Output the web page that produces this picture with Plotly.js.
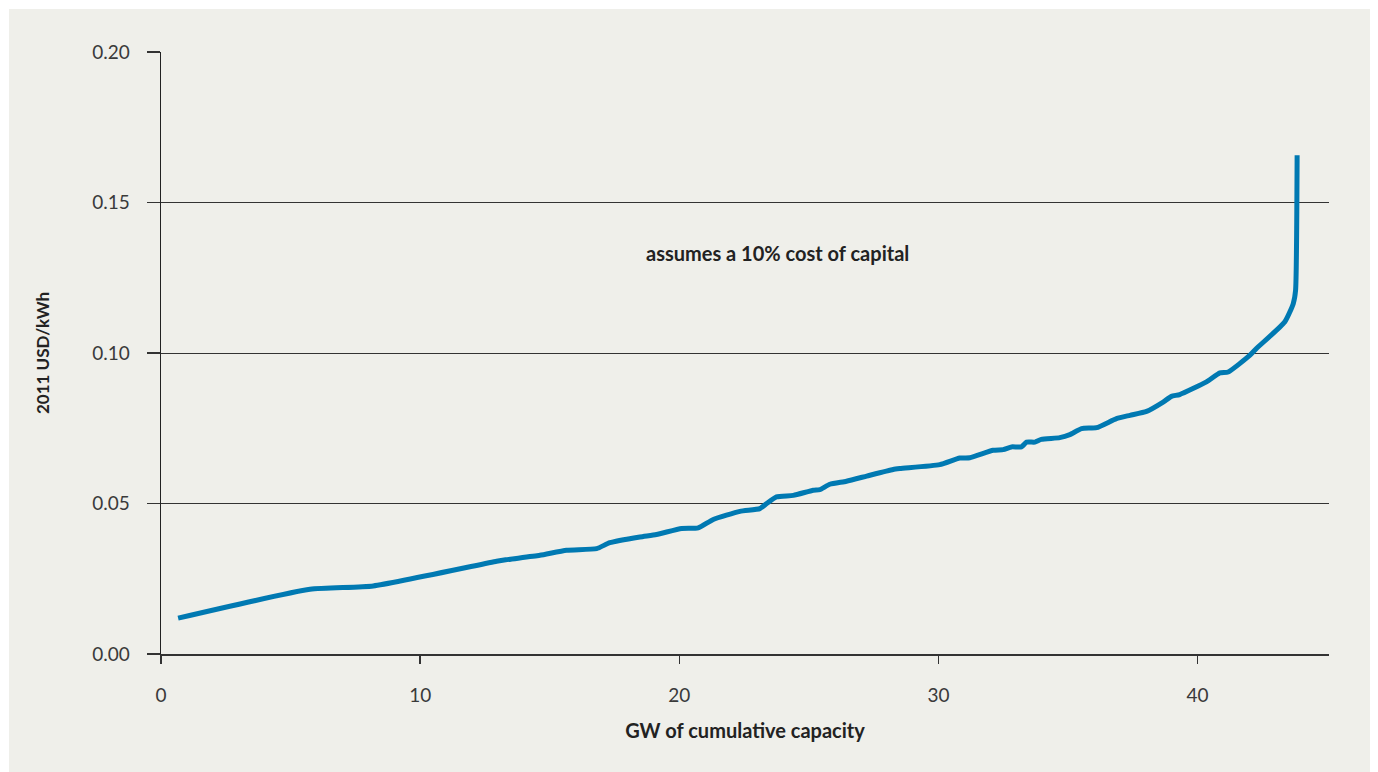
<!DOCTYPE html>
<html>
<head>
<meta charset="utf-8">
<script src="https://cdn.plot.ly/plotly-3.0.1.min.js"></script>
<style>
  html, body { margin: 0; padding: 0; background: #ffffff; }
  #chart { position: absolute; left: 9px; top: 9px; width: 1361px; height: 763px; }
</style>
</head>
<body>
<div id="chart"></div>
<script>
// GW of cumulative capacity
const capacityGW = [0.66, 5.75, 8.19, 12.95, 13.3, 14.62, 15.65, 16.81, 17.32, 18.48, 19.12, 20.09, 20.73, 21.31, 22.34, 23.11, 23.37, 23.75, 24.40, 25.17, 25.42, 25.81, 26.45, 27.23, 28.25, 28.51, 30.05, 30.82, 31.21, 32.11, 32.50, 32.82, 33.20, 33.40, 33.72, 33.97, 34.68, 35.07, 35.52, 36.10, 36.87, 37.39, 38.03, 38.67, 38.99, 39.31, 40.34, 40.86, 41.18, 42.01, 42.27, 43.36, 43.69, 43.78, 43.84];
// 2011 USD/kWh
const costUSDkWh = [0.0119, 0.0215, 0.0226, 0.0308, 0.0313, 0.0328, 0.0345, 0.0350, 0.0370, 0.0389, 0.0397, 0.0417, 0.0419, 0.0447, 0.0474, 0.0483, 0.0500, 0.0522, 0.0527, 0.0544, 0.0546, 0.0564, 0.0574, 0.0591, 0.0613, 0.0616, 0.0629, 0.0651, 0.0652, 0.0677, 0.0679, 0.0688, 0.0688, 0.0704, 0.0704, 0.0713, 0.0719, 0.0729, 0.0749, 0.0752, 0.0782, 0.0793, 0.0806, 0.0837, 0.0856, 0.0862, 0.0904, 0.0934, 0.0937, 0.0992, 0.1015, 0.1103, 0.1164, 0.1208, 0.1657];
const xTicks = [0, 10, 20, 30, 40];
const yTicks = [0, 0.05, 0.10, 0.15, 0.20];
const noteText = 'assumes a 10% cost of capital';
const xTitle = 'GW of cumulative capacity';
const yTitle = '2011 USD/kWh';

const trace = {
  x: capacityGW,
  y: costUSDkWh,
  type: 'scatter',
  mode: 'lines',
  line: { color: '#0079b2', width: 5, shape: 'spline', smoothing: 0.5 },
  hoverinfo: 'x+y'
};

const layout = {
  width: 1361,
  height: 763,
  paper_bgcolor: '#efefea',
  plot_bgcolor: '#efefea',
  margin: { l: 152, r: 41, t: 43, b: 118 },
  showlegend: false,
  font: { family: 'Lato, "Open Sans", sans-serif', color: '#333333' },
  xaxis: {
    range: [0, 45.07],
    tickvals: xTicks,
    ticktext: xTicks.map(String),
    ticks: 'outside',
    ticklen: 8,
    tickwidth: 1.5,
    tickcolor: '#333333',
    ticklabelstandoff: 16,
    showline: true,
    linecolor: '#333333',
    linewidth: 1.5,
    showgrid: false,
    zeroline: false,
    tickfont: { size: 19, color: '#3a3a3a', family: 'Lato, sans-serif' },
    title: { text: xTitle, standoff: 18, font: { size: 20, color: '#222222', family: 'Lato, sans-serif', weight: 'bold' } }
  },
  yaxis: {
    range: [0, 0.2],
    tickvals: yTicks,
    ticktext: yTicks.map(v => v.toFixed(2)),
    ticks: 'outside',
    ticklen: 13,
    tickwidth: 1.5,
    tickcolor: '#333333',
    ticklabelstandoff: 13,
    showline: true,
    linecolor: '#222222',
    linewidth: 1.5,
    showgrid: true,
    gridcolor: '#333333',
    gridwidth: 1,
    zeroline: false,
    tickfont: { size: 19, color: '#3a3a3a', family: 'Lato, sans-serif' },
    title: { text: yTitle, standoff: 38, font: { size: 17, color: '#222222', family: 'Lato, sans-serif', weight: 'bold' } }
  },
  annotations: [{
    x: 23.8, y: 0.1331, xref: 'x', yref: 'y',
    text: noteText,
    showarrow: false,
    font: { size: 20, color: '#222222', family: 'Lato, sans-serif', weight: 'bold' }
  }]
};

Plotly.newPlot('chart', [trace], layout, { displayModeBar: false, staticPlot: true });
</script>
</body>
</html>
